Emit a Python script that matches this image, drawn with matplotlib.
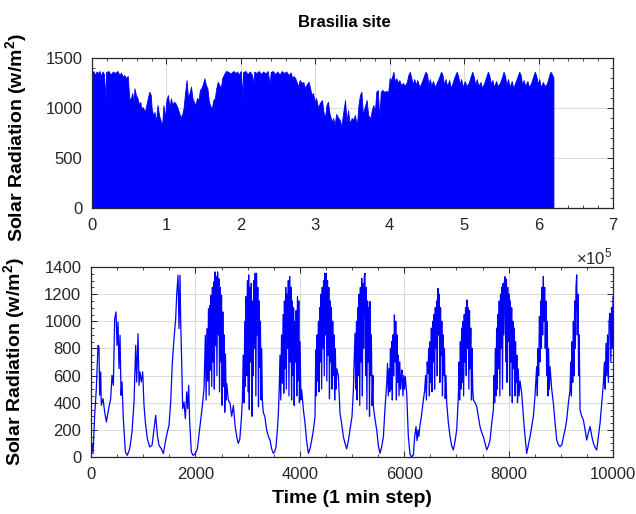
import matplotlib
matplotlib.use('Agg')
import matplotlib.pyplot as plt
from matplotlib.ticker import AutoMinorLocator, MultipleLocator
import numpy as np

plt.rcParams['font.family'] = ['Liberation Sans', 'DejaVu Sans']
plt.rcParams['mathtext.fontset'] = 'custom'
plt.rcParams['mathtext.rm'] = 'Liberation Sans'
plt.rcParams['mathtext.bf'] = 'Liberation Sans:bold'

# upper panel: daily peak envelope of the whole record (x in units of 1e5 min)
envelope_x = [
    0.00, 0.02, 0.04, 0.06, 0.08, 0.10, 0.12, 0.14, 0.16, 0.18, 0.19, 0.22, 0.25, 0.28, 0.31,
    0.34, 0.37, 0.39, 0.41, 0.43, 0.46, 0.48, 0.50, 0.52, 0.54, 0.56, 0.57, 0.59, 0.61, 0.63,
    0.65, 0.66, 0.68, 0.71, 0.73, 0.75, 0.77, 0.79, 0.80, 0.82, 0.84, 0.86, 0.88, 0.90, 0.92,
    0.94, 0.96, 0.98, 1.00, 1.02, 1.04, 1.06, 1.08, 1.10, 1.12, 1.15, 1.17, 1.19, 1.21, 1.23,
    1.25, 1.27, 1.29, 1.31, 1.33, 1.35, 1.37, 1.39, 1.41, 1.43, 1.45, 1.47, 1.49, 1.51, 1.53,
    1.55, 1.57, 1.59, 1.61, 1.63, 1.65, 1.67, 1.69, 1.71, 1.73, 1.75, 1.78, 1.80, 1.83, 1.86,
    1.90, 1.93, 1.95, 1.97, 2.00, 2.02, 2.03, 2.06, 2.09, 2.12, 2.15, 2.17, 2.18, 2.21, 2.24,
    2.27, 2.30, 2.33, 2.36, 2.39, 2.40, 2.43, 2.46, 2.49, 2.52, 2.55, 2.58, 2.61, 2.64, 2.67,
    2.69, 2.71, 2.73, 2.75, 2.77, 2.79, 2.82, 2.84, 2.86, 2.88, 2.91, 2.93, 2.95, 2.97, 2.99,
    3.01, 3.04, 3.06, 3.09, 3.11, 3.13, 3.15, 3.17, 3.19, 3.22, 3.24, 3.26, 3.28, 3.31, 3.33,
    3.35, 3.37, 3.40, 3.42, 3.44, 3.46, 3.49, 3.51, 3.53, 3.56, 3.58, 3.60, 3.62, 3.64, 3.66,
    3.69, 3.71, 3.74, 3.76, 3.78, 3.80, 3.82, 3.84, 3.86, 3.88, 3.90, 3.93, 3.95, 3.98, 4.00,
    4.02, 4.05, 4.07, 4.09, 4.11, 4.13, 4.15, 4.18, 4.20, 4.23, 4.25, 4.27, 4.29, 4.31, 4.33,
    4.35, 4.37, 4.40, 4.42, 4.45, 4.48, 4.50, 4.52, 4.54, 4.56, 4.58, 4.61, 4.63, 4.66, 4.69,
    4.71, 4.73, 4.75, 4.77, 4.80, 4.82, 4.84, 4.87, 4.90, 4.92, 4.94, 4.96, 4.98, 5.01, 5.03,
    5.06, 5.09, 5.11, 5.13, 5.15, 5.17, 5.19, 5.22, 5.24, 5.27, 5.30, 5.32, 5.34, 5.36, 5.38,
    5.40, 5.43, 5.45, 5.48, 5.51, 5.53, 5.55, 5.57, 5.59, 5.61, 5.64, 5.66, 5.69, 5.72, 5.74,
    5.76, 5.78, 5.80, 5.82, 5.85, 5.87, 5.90, 5.93, 5.95, 5.97, 5.99, 6.01, 6.03, 6.06, 6.08,
    6.11, 6.14, 6.16, 6.18, 6.20,
]
envelope_y = [
    1340, 1370, 1330, 1365, 1350, 1370, 1320, 1365, 1340, 1100, 1360, 1370, 1335, 1365, 1350,
    1370, 1330, 1355, 1310, 1330, 1300, 1320, 1100, 1090, 1150, 1060, 1197, 1130, 1100, 1040,
    1060, 997, 1010, 963, 1030, 1100, 1163, 1130, 1000, 930, 960, 863, 1030, 930, 880,
    813, 1030, 900, 1080, 1130, 1000, 1097, 1030, 1063, 1050, 1000, 950, 913, 930, 1000,
    1150, 1280, 1100, 1150, 1213, 1097, 1060, 1030, 1100, 1080, 1180, 1200, 1240, 1297, 1230,
    1197, 1063, 1020, 997, 1080, 1097, 1200, 1263, 1230, 1197, 1300, 1347, 1370, 1363, 1345,
    1370, 1350, 1365, 1335, 1370, 1100, 1360, 1370, 1340, 1365, 1330, 1250, 1365, 1350, 1370,
    1340, 1365, 1345, 1370, 1230, 1360, 1370, 1340, 1365, 1335, 1370, 1350, 1365, 1330, 1355,
    1300, 1320, 1297, 1260, 1213, 1280, 1250, 1260, 1197, 1230, 1263, 1200, 1130, 1150, 1063,
    1100, 997, 1050, 1080, 960, 897, 1030, 1063, 950, 863, 900, 830, 940, 900, 880,
    813, 930, 1080, 863, 980, 850, 900, 880, 930, 830, 1030, 1130, 1163, 930, 1000,
    1080, 930, 897, 980, 1030, 960, 1163, 1180, 900, 1163, 1180, 1160, 1170, 1163, 1300,
    1280, 1363, 1260, 1297, 1250, 1280, 1230, 1250, 1220, 1260, 1330, 1363, 1300, 1240, 1290,
    1230, 1280, 1210, 1240, 1300, 1363, 1340, 1240, 1290, 1220, 1270, 1210, 1250, 1300, 1363,
    1330, 1230, 1290, 1220, 1280, 1200, 1240, 1310, 1363, 1320, 1240, 1290, 1210, 1270, 1220,
    1250, 1320, 1363, 1310, 1230, 1290, 1220, 1260, 1200, 1250, 1320, 1363, 1320, 1240, 1280,
    1210, 1270, 1220, 1250, 1310, 1363, 1320, 1230, 1290, 1210, 1270, 1200, 1260, 1320, 1363,
    1330, 1230, 1280, 1220, 1270, 1210, 1250, 1320, 1363, 1320, 1240, 1290, 1210, 1260, 1220,
    1240, 1320, 1363, 1340, 1300,
]

# lower panel: first 10000 one-minute samples
time_steps = [
    0, 19, 38, 70, 102, 134, 153, 166, 185, 198, 230, 262, 294, 338, 377, 402, 428, 453, 479,
    498, 517, 536, 556, 575, 594, 619, 658, 696, 741, 785, 824, 856, 875, 900, 920, 939, 964,
    990, 1015, 1041, 1079, 1124, 1169, 1207, 1239, 1271, 1303, 1347, 1386, 1424, 1462, 1494,
    1526, 1558, 1590, 1622, 1641, 1667, 1686, 1705, 1718, 1737, 1756, 1782, 1807, 1833, 1852,
    1871, 1890, 1922, 1954, 1999, 2037, 2082, 2127, 2165,
    2190, 2205, 2220, 2235, 2250, 2262, 2275, 2288, 2300, 2312, 2325, 2338, 2350, 2362, 2375,
    2388, 2400, 2412, 2425, 2438, 2450, 2462, 2475, 2488, 2500, 2512, 2525, 2538, 2550, 2562,
    2575, 2590, 2600, 2630, 2663, 2695, 2727, 2760, 2791, 2820, 2850, 2880,
    2900, 2915, 2930, 2945, 2958, 2970, 2982, 2995, 3008, 3020, 3032, 3045, 3058, 3070, 3082,
    3095, 3108, 3120, 3132, 3145, 3158, 3170, 3182, 3195, 3208, 3220, 3232, 3245, 3258, 3270,
    3282, 3300, 3330, 3365, 3400, 3429, 3460, 3493, 3520, 3544, 3570, 3589,
    3605, 3620, 3635, 3650, 3665, 3680, 3692, 3705, 3718, 3730, 3742, 3755, 3768, 3780, 3792,
    3805, 3818, 3830, 3842, 3855, 3868, 3880, 3892, 3905, 3918, 3930, 3942, 3955, 3968, 3980,
    3992, 4005, 4020, 4036, 4068, 4100, 4130, 4164, 4195, 4228, 4260, 4291,
    4305, 4318, 4330, 4342, 4355, 4368, 4380, 4392, 4405, 4418, 4430, 4442, 4455, 4468, 4480,
    4492, 4505, 4518, 4530, 4542, 4555, 4568, 4580, 4592, 4605, 4618, 4630, 4642, 4655, 4668,
    4680, 4695, 4710, 4738, 4770, 4800, 4834, 4866, 4898, 4930, 4962, 5000, 5026,
    5040, 5058, 5070, 5085, 5098, 5110, 5122, 5135, 5148, 5160, 5172, 5186, 5198, 5210, 5222,
    5235, 5248, 5260, 5272, 5285, 5298, 5310, 5322, 5335, 5346, 5358, 5370, 5385, 5400, 5409,
    5440, 5473, 5505, 5537, 5570, 5601, 5630, 5665,
    5680, 5695, 5710, 5722, 5735, 5748, 5760, 5772, 5785, 5798, 5812, 5825, 5838, 5850, 5862,
    5875, 5888, 5900, 5915, 5930, 5945, 5956, 5975, 5990, 6005, 6020, 6047, 6079, 6111, 6140,
    6175, 6200, 6226, 6245, 6264, 6280, 6300, 6328, 6360, 6392,
    6410, 6425, 6440, 6456, 6470, 6482, 6495, 6508, 6520, 6532, 6545, 6558, 6570, 6582, 6595,
    6608, 6620, 6632, 6645, 6658, 6670, 6682, 6695, 6708, 6720, 6732, 6745, 6758, 6770, 6785,
    6800, 6814, 6846, 6878, 6910, 6942, 6975, 7005, 7037,
    7050, 7062, 7075, 7088, 7100, 7112, 7125, 7138, 7150, 7162, 7175, 7188, 7200, 7212, 7225,
    7238, 7250, 7262, 7275, 7288, 7300, 7312, 7325, 7357, 7389, 7420, 7452, 7484, 7516, 7548,
    7580, 7612, 7644, 7676, 7708,
    7720, 7732, 7745, 7758, 7770, 7782, 7795, 7808, 7820, 7832, 7845, 7858, 7870, 7882, 7895,
    7908, 7920, 7932, 7945, 7958, 7970, 7982, 7995, 8008, 8020, 8032, 8045, 8058, 8070, 8082,
    8095, 8108, 8120, 8132, 8145, 8158, 8170, 8185, 8200, 8220, 8250, 8282, 8314, 8346, 8378,
    8410, 8440, 8473, 8505,
    8520, 8537, 8550, 8562, 8575, 8590, 8602, 8615, 8628, 8640, 8652, 8665, 8678, 8690, 8702,
    8715, 8728, 8740, 8752, 8765, 8780, 8793, 8825, 8857, 8890, 8921, 8953, 8985, 9020, 9050,
    9080, 9112, 9145, 9176,
    9190, 9202, 9215, 9228, 9240, 9252, 9265, 9278, 9290, 9304, 9316, 9328, 9340, 9352, 9368,
    9400, 9432, 9465, 9496, 9528, 9560, 9595, 9625, 9655, 9687, 9720, 9751, 9785, 9815, 9835,
    9850, 9865, 9880, 9895, 9910, 9925, 9943, 9958, 9972, 9985, 10000,
]
radiation = [
    37, 98, 25, 307, 504, 823, 811, 455, 627, 381, 430, 332, 258, 356, 430, 602, 528, 1020, 1069,
    823, 995, 651, 897, 455, 553, 283, 37, 12, 61, 184, 405, 823, 553, 909, 528, 627, 553,
    627, 381, 258, 135, 74, 86, 209, 307, 160, 86, 61, 25, 111, 184, 233,
    405, 700, 872, 1020, 1192, 1339, 946, 1339, 995, 700, 356, 405, 283, 479, 356,
    528, 258, 37, 12, 25, 61, 209, 356, 504,
    897, 420, 946, 560, 1093, 455, 1118, 640, 1192, 520, 1250, 700, 1290, 500, 1364,
    820, 1330, 600, 1364, 900, 1314, 480, 1250, 700, 1192, 381, 1069, 520, 900, 330,
    760, 420, 543, 420, 396, 300, 380, 230, 150, 100, 130, 280,
    420, 750, 400, 1000, 520, 1182, 600, 1300, 480, 1342, 350, 1250, 700, 1280, 300,
    1150, 600, 1300, 800, 1354, 450, 1354, 900, 1250, 370, 1150, 660, 1000, 420, 800,
    420, 330, 297, 199, 150, 125, 60, 27, 40, 76, 200, 322,
    494, 750, 420, 900, 543, 1050, 470, 1150, 650, 1250, 500, 1200, 800, 1300, 450,
    1329, 700, 1250, 420, 1150, 600, 1100, 380, 1000, 700, 1080, 450, 1182, 560, 1150,
    400, 850, 420, 494, 350, 248, 120, 27, 60, 125, 200, 297,
    789, 450, 900, 560, 1000, 480, 1100, 700, 1200, 500, 1250, 800, 1300, 600, 1354,
    900, 1354, 560, 1300, 750, 1250, 430, 1150, 700, 1100, 500, 1000, 600, 900, 420,
    800, 500, 650, 600, 322, 250, 150, 100, 60, 120, 200, 300, 494,
    700, 912, 500, 1000, 420, 1100, 600, 1200, 380, 1250, 700, 1317, 450, 1280, 800,
    1330, 1354, 600, 1250, 350, 1150, 700, 1100, 300, 1145, 600, 900, 380, 600, 371,
    280, 199, 80, 27, 80, 150, 350, 543,
    690, 450, 650, 480, 800, 500, 850, 420, 900, 600, 1047, 700, 1000, 420, 900,
    550, 750, 450, 700, 500, 600, 641, 450, 600, 500, 592, 469, 150, 20, 0,
    15, 150, 224, 120, 199, 150, 230, 297, 400, 494,
    600, 420, 700, 617, 800, 450, 850, 550, 950, 480, 1000, 700, 1050, 500, 1100,
    800, 1150, 600, 1243, 900, 1200, 550, 1100, 750, 1000, 450, 900, 600, 800, 430,
    600, 396, 250, 150, 80, 52, 120, 199, 445,
    700, 420, 850, 500, 950, 550, 1000, 450, 1050, 700, 1100, 600, 1157, 800, 1100,
    500, 1080, 650, 950, 420, 800, 500, 420, 400, 371, 300, 224, 180, 150, 100,
    52, 80, 125, 250, 346,
    600, 400, 800, 450, 950, 500, 1050, 650, 1150, 450, 1200, 800, 1250, 500, 1280,
    900, 1300, 1329, 700, 1310, 550, 1250, 850, 1200, 450, 1150, 700, 1100, 400, 1000,
    650, 950, 450, 850, 550, 750, 400, 650, 450, 560, 469, 300, 150, 27, 90,
    150, 220, 297, 450,
    550, 666, 450, 800, 600, 1034, 700, 1150, 800, 1250, 900, 1329, 1000, 1250, 800,
    1150, 600, 1000, 450, 800, 500, 666, 500, 396, 250, 125, 90, 76, 90, 150,
    200, 273, 400, 494,
    700, 450, 850, 550, 1000, 600, 1150, 800, 1250, 1342, 900, 1200, 600, 900, 346,
    300, 273, 200, 125, 180, 224, 150, 100, 70, 52, 150, 248, 400, 543, 700,
    500, 838, 600, 900, 550, 1000, 1059, 700, 1100, 800, 1182,
]

blue = '#0000ff'
ink = '#262626'

fig = plt.figure(figsize=(6.36, 5.14), dpi=100)
ax1 = fig.add_axes([0.1447, 0.5953, 0.8191, 0.2918])
ax2 = fig.add_axes([0.1431, 0.1109, 0.8208, 0.3696])

# whole record
ax1.fill_between(np.array(envelope_x) * 1e5, 0, envelope_y, color=blue, linewidth=0.6,
                 edgecolor=blue)
ax1.set_xlim(0, 7e5)
ax1.set_ylim(0, 1500)
ax1.set_xticks(np.arange(0, 8) * 1e5)
ax1.set_xticklabels([str(i) for i in range(8)])
ax1.set_yticks([0, 500, 1000, 1500])
ax1.xaxis.set_minor_locator(AutoMinorLocator(5))
ax1.yaxis.set_minor_locator(AutoMinorLocator(5))
ax1.set_title('Brasilia site', fontsize=12, fontweight='bold', pad=22, x=0.485)

# zoom on the first 10000 minutes
ax2.plot(time_steps, radiation, color=blue, linewidth=0.9)
ax2.set_xlim(0, 10000)
ax2.set_ylim(0, 1400)
ax2.xaxis.set_major_locator(MultipleLocator(2000))
ax2.yaxis.set_major_locator(MultipleLocator(200))
ax2.xaxis.set_minor_locator(AutoMinorLocator(4))
ax2.yaxis.set_minor_locator(AutoMinorLocator(4))
ax2.set_xlabel('Time (1 min step)', fontsize=14, fontweight='bold', labelpad=6)

ylab = r'Solar Radiation (w/m$^\mathbf{2}$)'
for ax, ypos in ((ax1, 0.47), (ax2, 0.5)):
    ax.set_ylabel(ylab, fontsize=14, fontweight='bold')
    ax.yaxis.set_label_coords(-0.12, ypos)
    ax.grid(True, which='major', color='#dcdcdc', linewidth=0.8)
    ax.set_axisbelow(True)
    ax.tick_params(which='both', direction='in', top=True, right=True, colors=ink,
                   labelsize=12, pad=7)
    ax.tick_params(which='major', length=4, width=0.7)
    ax.tick_params(which='minor', length=2.5, width=0.6)
    for sp in ax.spines.values():
        sp.set_color(ink)
        sp.set_linewidth(0.9)

# exponent of the upper x axis
fig.text(0.905, 0.486, r'$\times10^5$', fontsize=12, color=ink, ha='left', va='baseline')

fig.savefig('out.png', dpi=100)
